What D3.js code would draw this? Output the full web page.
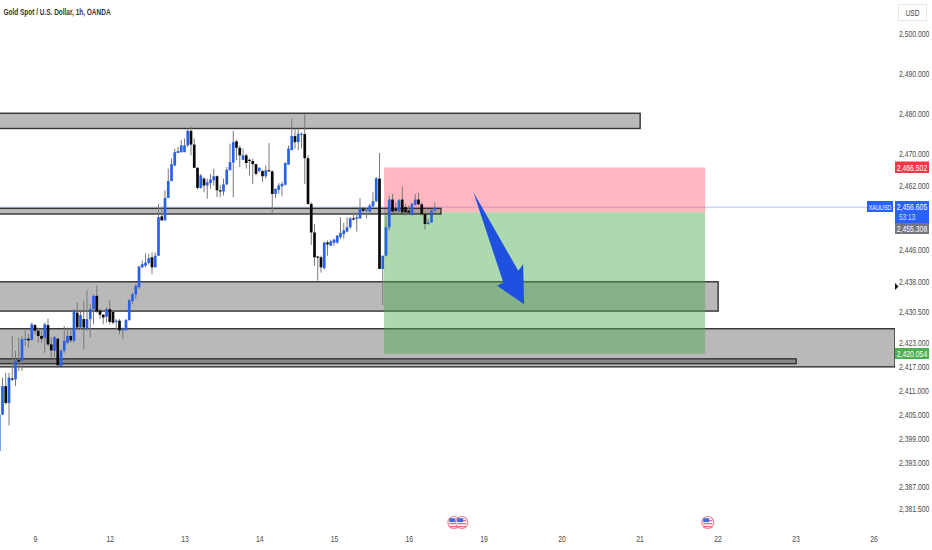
<!DOCTYPE html>
<html>
<head>
<meta charset="utf-8">
<script src="https://cdnjs.cloudflare.com/ajax/libs/d3/7.8.5/d3.min.js"></script>
<style>
	html, body { margin: 0; padding: 0; background: #fff; }
	svg { display: block; }
	text { font-family: "Liberation Sans", Arial, sans-serif; }
	.axis path, .axis line { display: none; }
	.axis text { fill: #4a4a4a; font-size: 9.5px; }
</style>
</head>
<body>
<div id="chart"></div>
<script>
// candles, first one is bar -11, bar 0 is the 9th
const firstBar = -11;
const opens = [2395.8,2404.9,2412.0,2407.8,2413.9,2413.7,2418.5,2418.3,2423.5,2423.8,2423.5,2427.2,2425.8,2424.5,2424.1,2427.2,2422.4,2420.8,2423.8,2417.0,2420.8,2422.8,2424.5,2423.3,2430.3,2426.6,2428.7,2426.2,2428.7,2431.2,2434.5,2430.8,2429.8,2429.3,2431.2,2430.5,2428.0,2428.3,2425.9,2425.9,2428.5,2433.2,2434.8,
	2436.6,2441.6,2442.0,2442.7,2444.1,2441.6,2444.5,2454.3,2453.3,2458.9,2463.1,2467.0,2470.1,2470.3,2470.3,2472.0,2475.6,2472.2,2466.4,2461.4,2463.7,2462.0,2462.6,2463.3,2464.3,2460.8,2460.5,2462.3,2465.8,2467.7,2473.0,2471.4,2468.4,2469.5,2468.4,2468.1,2467.3,2465.6,2465.6,2464.3,2465.8,2465.5,2459.9,2460.9,2461.8,
	2462.2,2467.2,2470.8,2474.3,2472.8,2474.7,2474.8,2468.8,2457.4,2450.3,2444.3,2444.1,2441.4,2447.8,2447.0,2447.7,2447.8,2449.1,2449.9,2450.5,2451.6,2453.8,2453.7,2453.8,2456.2,2455.8,2455.5,2456.8,2458.1,2463.7,2441.2,2444.5,2451.6,2458.5,2456.2,2455.5,2458.5,2456.6,2455.8,2454.7,2457.2,2458.5,2457.3,2454.9,2452.4,2452.8,2455.8];
const closes = [2404.9,2412.0,2407.8,2414.1,2413.6,2418.3,2418.1,2423.7,2423.8,2423.4,2427.4,2425.8,2424.5,2423.8,2427.4,2422.4,2420.9,2424.2,2417.2,2420.8,2423.3,2424.5,2423.4,2430.8,2426.6,2429.7,2426.6,2428.7,2431.2,2434.5,2430.6,2429.8,2429.1,2431.2,2428.0,2427.8,2428.3,2425.9,2426.2,2428.5,2433.4,2434.9,2437.0,
	2441.8,2442.4,2442.8,2443.9,2441.6,2444.5,2454.1,2453.3,2458.9,2463.1,2467.3,2470.3,2470.6,2472.0,2472.0,2475.6,2472.2,2466.4,2461.4,2464.5,2462.0,2462.8,2463.5,2464.3,2460.8,2460.5,2462.3,2465.9,2467.8,2472.8,2471.4,2469.5,2469.5,2467.6,2468.1,2467.3,2464.9,2466.4,2464.3,2465.8,2465.5,2459.9,2461.2,2462.0,2462.4,
	2467.6,2471.2,2474.3,2472.8,2474.9,2474.9,2468.8,2457.4,2450.3,2444.1,2444.1,2441.6,2447.8,2447.3,2448.1,2448.5,2449.5,2450.2,2450.8,2451.6,2453.8,2453.5,2454.1,2456.2,2455.7,2456.0,2457.0,2458.1,2463.8,2441.2,2444.5,2451.6,2458.5,2455.5,2455.7,2458.3,2455.3,2455.3,2455.2,2457.4,2458.5,2457.3,2454.9,2452.4,2452.8,2455.8,2456.4];
const highs = [2405.3,2414.1,2415.3,2415.3,2424.5,2420.8,2424.1,2424.5,2426.2,2424.9,2427.8,2427.4,2426.6,2425.8,2427.8,2428.8,2424.1,2424.5,2424.1,2421.2,2427.0,2426.6,2426.6,2431.2,2432.8,2430.8,2433.3,2435.9,2432.4,2434.9,2437.0,2431.2,2429.9,2431.6,2433.4,2430.8,2428.7,2428.7,2426.6,2428.7,2433.7,2435.3,2437.4,
	2442.0,2443.3,2445.1,2444.9,2445.3,2445.3,2457.4,2456.6,2460.8,2466.2,2468.7,2471.2,2471.6,2473.3,2473.7,2476.2,2476.8,2473.7,2466.6,2464.9,2464.1,2463.7,2464.9,2466.2,2464.5,2462.0,2463.7,2466.6,2472.4,2475.6,2473.3,2472.0,2471.2,2469.9,2468.7,2468.7,2467.4,2466.6,2465.9,2467.0,2472.6,2465.8,2461.2,2462.6,2462.9,
	2467.8,2472.0,2478.7,2476.2,2476.2,2475.2,2479.7,2469.5,2457.8,2452.4,2444.5,2444.5,2448.0,2448.3,2448.5,2448.7,2449.7,2454.1,2452.7,2454.1,2454.1,2455.3,2455.3,2458.8,2456.6,2456.3,2457.4,2460.3,2464.1,2470.1,2444.5,2454.5,2459.5,2459.9,2457.8,2458.7,2461.8,2457.4,2457.0,2457.8,2459.9,2460.2,2457.8,2455.3,2453.7,2456.0,2457.7];
const lows = [2395.8,2404.8,2407.4,2402.2,2413.3,2412.0,2415.8,2415.8,2422.0,2421.6,2423.3,2424.9,2422.8,2422.8,2420.3,2422.0,2419.1,2418.7,2417.0,2417.0,2420.3,2422.4,2422.8,2422.8,2426.2,2426.2,2421.2,2425.8,2424.1,2427.4,2430.3,2428.7,2427.4,2427.8,2427.4,2427.4,2426.2,2424.9,2423.7,2425.8,2428.2,2432.4,2433.7,
	2436.2,2441.4,2441.6,2442.3,2439.9,2441.6,2444.5,2453.3,2453.3,2458.9,2463.1,2466.8,2470.1,2470.2,2470.3,2471.6,2469.5,2466.4,2461.0,2461.2,2460.3,2458.7,2461.2,2462.0,2459.1,2459.1,2459.5,2462.0,2465.8,2459.1,2468.3,2466.6,2468.3,2466.2,2464.5,2462.3,2464.5,2465.3,2462.8,2463.7,2465.5,2455.3,2458.9,2459.9,2459.3,
	2462.0,2467.2,2470.8,2471.2,2470.8,2471.2,2462.4,2457.2,2447.2,2442.0,2438.3,2440.3,2441.0,2444.5,2447.0,2447.0,2447.4,2448.7,2448.7,2450.3,2451.2,2453.3,2450.5,2453.7,2455.3,2453.8,2455.3,2456.6,2457.8,2441.2,2432.2,2444.3,2450.8,2455.3,2454.9,2454.9,2455.2,2454.5,2454.9,2454.5,2457.0,2457.0,2454.5,2451.0,2452.2,2452.7,2455.3];

// axis labels
const priceTicks = [2500,2490,2480,2470,2462,2446,2438,2430.5,2423,2417,2411,2405,2399,2393,2387,2381.5];
const dayBars = [0,23,46,69,92,115,138,162,186,210,234,258];
const dayLabels = ["9","12","13","14","15","16","19","20","21","22","23","26"];

// drawn zones: [top price, bottom price]
const zoneTop = [2480,2476.2];
const zoneMid = [2456.3,2454.9];
const zoneLow = [2438,2430.7];
const zoneBase = [2426.3,2416.8];
const zoneThin = [2418.8,2417.6];
const zoneEnds = [186.2,124.9,210.2,264.6,234.2];

// position tool
const entryPrice = 2455.308, stopPrice = 2466.502, targetPrice = 2420.054, lastPrice = 2456.605;
const positionBars = [107.4,206.2];

// hand drawn arrow in bar / price
const arrowBars = [134.9,148.7,150.2,150.5,142.2,144.1];
const arrowPrices = [2460.3,2440.75,2442.4,2432.4,2437,2437.8];

const eventBars = [128.9,131.3,207];

const WIDTH = 932, HEIGHT = 550, PLOT_RIGHT = 895;
const SQUEEZE = 0.72;   // the source screenshot has very narrow labels

const svg = d3.select("#chart").append("svg").attr("width", WIDTH).attr("height", HEIGHT);

const x = d3.scaleLinear().domain([0,258]).range([35,873.5]);
const y = d3.scaleLinear().domain([2500,2381.5]).range([33,508.5]);

svg.append("defs").append("clipPath").attr("id","plot")
	.append("rect").attr("width", PLOT_RIGHT).attr("height", 515);

const plot = svg.append("g").attr("clip-path","url(#plot)");

// last price line
plot.append("line")
	.attr("x1",0).attr("x2",PLOT_RIGHT)
	.attr("y1",y(lastPrice)).attr("y2",y(lastPrice))
	.attr("stroke","#cdd6f8").attr("stroke-width",1.5);

function zone(z, end, fill, sw) {
	plot.append("rect")
		.attr("x",-5)
		.attr("y",y(z[0]))
		.attr("width",x(end)+5)
		.attr("height",y(z[1])-y(z[0]))
		.attr("fill",fill)
		.attr("stroke","#333")
		.attr("stroke-width",sw);
}
zone(zoneBase, zoneEnds[3], "#b9b9b9", 1.4);
zone(zoneThin, zoneEnds[4], "#8a8a8a", 1.4);
zone(zoneLow, zoneEnds[2], "#b9b9b9", 1.4);
zone(zoneTop, zoneEnds[0], "#b9b9b9", 1.4);

// position boxes
plot.append("rect")
	.attr("x",x(positionBars[0])).attr("width",x(positionBars[1])-x(positionBars[0]))
	.attr("y",y(stopPrice)).attr("height",y(entryPrice)-y(stopPrice))
	.attr("fill","rgba(255,77,100,.4)");
plot.append("rect")
	.attr("x",x(positionBars[0])).attr("width",x(positionBars[1])-x(positionBars[0]))
	.attr("y",y(entryPrice)).attr("height",y(targetPrice)-y(entryPrice))
	.attr("fill","rgba(70,170,75,.45)");

zone(zoneMid, zoneEnds[1], "rgba(120,120,120,.5)", 1.4);

// candles
const bars = opens.map((o,i) => ({i: i+firstBar, o: o, c: closes[i], h: highs[i], l: lows[i]}));

plot.selectAll(".wick").data(bars).enter().append("line")
	.attr("class","wick")
	.attr("x1",d => x(d.i)).attr("x2",d => x(d.i))
	.attr("y1",d => y(d.h)).attr("y2",d => y(d.l))
	.attr("stroke","#7a7a7a").attr("stroke-width",1);

plot.selectAll(".bar").data(bars).enter().append("rect")
	.attr("class","bar")
	.attr("x",d => x(d.i)-1.35)
	.attr("width",2.7)
	.attr("y",d => y(Math.max(d.o,d.c)))
	.attr("height",d => Math.max(1.2,Math.abs(y(d.o)-y(d.c))))
	.attr("fill",d => d.c >= d.o ? "#2962e8" : "#0a0a0a");

// arrow
plot.append("polygon")
	.attr("points",arrowBars.map((b,i) => x(b)+","+y(arrowPrices[i])).join(" "))
	.attr("fill","#1f50e0");

// axes
const yAxis = d3.axisRight(y).tickValues(priceTicks).tickFormat(d3.format(",.3f")).tickSize(0).tickPadding(0);
svg.append("g").attr("class","axis").attr("transform","translate(899,0)").call(yAxis)
	.selectAll("text").attr("transform","scale("+SQUEEZE+",1)");

const xAxis = d3.axisBottom(x).tickValues(dayBars).tickFormat((d,i) => dayLabels[i]).tickSize(0).tickPadding(0);
svg.append("g").attr("class","axis").attr("transform","translate(0,535)").call(xAxis)
	.selectAll("text").attr("transform","scale("+SQUEEZE+",1)");

// text squeezed around its own anchor point
function label(px, py, str, size, fill, weight) {
	return svg.append("g").attr("transform","translate("+px+","+py+") scale("+SQUEEZE+",1)")
		.append("text")
		.attr("text-anchor","middle")
		.attr("font-size",size)
		.attr("font-weight",weight || "normal")
		.attr("fill",fill)
		.text(str);
}

// title
label(57,14.5,"Gold Spot / U.S. Dollar, 1h, OANDA",9,"#333","bold");

// USD box
svg.append("rect").attr("x",898.5).attr("y",4.5).attr("width",28).attr("height",16)
	.attr("fill","#fff").attr("stroke","#e6e6e6");
label(912.5,15.5,"USD",9,"#444");

// price tags
function tag(x0, y0, w, h, fill, str, ty, size) {
	svg.append("rect").attr("x",x0).attr("y",y0).attr("width",w).attr("height",h).attr("fill",fill);
	label(x0+w/2,ty,str,size,"#fff");
}
tag(895,161.5,34,11.5,"#f23645",d3.format(",.3f")(stopPrice),170.5,9.5);
tag(895,201,34,22,"#2962ff",d3.format(",.3f")(lastPrice),210,9.5);
tag(895,223,34,11,"#73767d",d3.format(",.3f")(entryPrice),232,9.5);
tag(895,348,34,11,"#4caf50",d3.format(",.3f")(targetPrice),357,9.5);
tag(867,201,26,11,"#2962ff","XAUUSD",210,7.5);
label(907,220,"53:13",9,"#cfdcff");

// small marker on the axis edge
svg.append("path").attr("d","M895,283 L898.5,286.5 L895,290 Z").attr("fill","#111");

// event flags
const flags = svg.selectAll(".flag").data(eventBars).enter().append("g")
	.attr("class","flag")
	.attr("transform",d => "translate("+x(d)+",522.5)");
flags.append("circle").attr("r",6).attr("fill","#fff").attr("stroke","#f28b96").attr("stroke-width",1.2);
flags.selectAll(".stripe").data([-2.5,0.5,3.5]).enter().append("rect")
	.attr("class","stripe")
	.attr("x",-4.5).attr("width",9).attr("height",1.3).attr("y",d => d)
	.attr("fill","#ee6f7b");
flags.append("rect").attr("x",-4.5).attr("y",-4.3).attr("width",6).attr("height",4).attr("fill","#3b6fd6");
</script>
</body>
</html>
